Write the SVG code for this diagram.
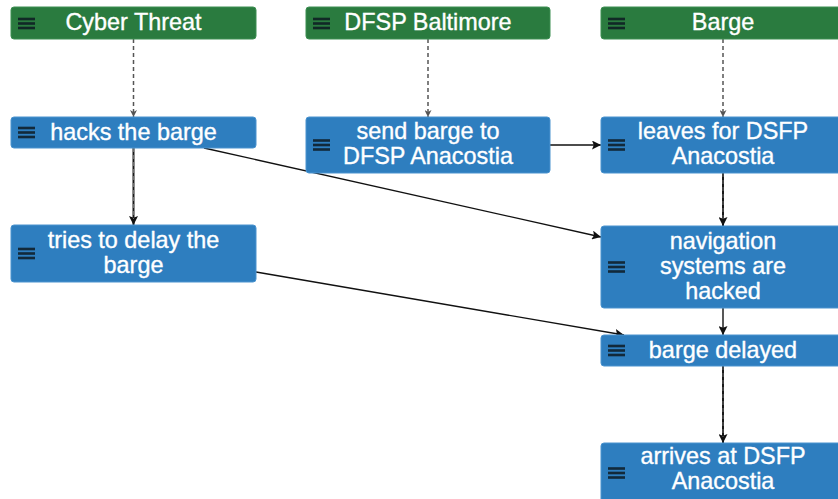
<svg xmlns="http://www.w3.org/2000/svg" width="838" height="499" viewBox="0 0 838 499">
  <style>
    .lane { fill: #2a7b3f; stroke: #3d8f52; stroke-width: 1; }
    .step { fill: #2e7ebf; stroke: #4a93cf; stroke-width: 1; }
    .label { font-family: "Liberation Sans", Arial, sans-serif; font-size: 23.4px; fill: #ffffff; stroke: #ffffff; stroke-width: 0.35; text-anchor: middle; }
    .menu rect { fill: #0d1a22; opacity: 0.85; }
    .dash { stroke: #555555; stroke-width: 1.5; stroke-dasharray: 4 3; fill: none; }
    .flow { stroke: #111111; stroke-width: 1.4; fill: none; }
    .flow-v { stroke: #1a1a1a; stroke-width: 2; fill: none; }
    .flow-over { stroke: #808080; stroke-width: 0.8; stroke-dasharray: 4 3; fill: none; }
  </style>
  <defs>
    <marker id="arrow-grey" viewBox="0 0 10 10" refX="10" refY="5" markerWidth="7" markerHeight="7" markerUnits="userSpaceOnUse" orient="auto">
      <path d="M0,0 L10,5 L0,10 L3,5 Z" fill="#555555"/>
    </marker>
    <marker id="arrow-black" viewBox="0 0 10 10" refX="10" refY="5" markerWidth="9" markerHeight="9" markerUnits="userSpaceOnUse" orient="auto">
      <path d="M0,0 L10,5 L0,10 L2,5 Z" fill="#111111"/>
    </marker>
    <g id="menu-icon" class="menu">
      <rect x="0" y="-5.8" width="17" height="2.6"/>
      <rect x="0" y="-1.3" width="17" height="2.6"/>
      <rect x="0" y="3.2" width="17" height="2.6"/>
    </g>
  </defs>

  <!-- connectors -->
  <g id="connectors">
    <line class="dash" x1="133.5" y1="39" x2="133.5" y2="117" marker-end="url(#arrow-grey)"/>
    <line class="dash" x1="428" y1="39" x2="428" y2="117" marker-end="url(#arrow-grey)"/>
    <line class="dash" x1="723" y1="39" x2="723" y2="117" marker-end="url(#arrow-grey)"/>

    <line class="flow-v" x1="133.5" y1="148" x2="133.5" y2="225" marker-end="url(#arrow-black)"/>
    <line class="flow-over" x1="133.5" y1="148" x2="133.5" y2="219"/>
    <line class="flow-v" x1="723" y1="173" x2="723" y2="226" marker-end="url(#arrow-black)"/>
    <line class="flow-over" x1="723" y1="173" x2="723" y2="220"/>
    <line class="flow" x1="723" y1="308" x2="723" y2="335" marker-end="url(#arrow-black)"/>
    <line class="flow-v" x1="723" y1="366" x2="723" y2="443" marker-end="url(#arrow-black)"/>
    <line class="flow-over" x1="723" y1="366" x2="723" y2="437"/>

    <line class="flow" x1="550" y1="145" x2="601" y2="145" marker-end="url(#arrow-black)"/>
    <line class="flow" x1="204" y1="148" x2="601" y2="237" marker-end="url(#arrow-black)"/>
    <line class="flow" x1="256" y1="272" x2="624" y2="335" marker-end="url(#arrow-black)"/>
  </g>

  <!-- lane headers -->
  <g id="cyber-threat">
    <rect class="lane" x="11" y="7" width="245" height="32" rx="3"/>
    <use href="#menu-icon" x="18" y="23.5"/>
    <text class="label" x="133.5" y="30">Cyber Threat</text>
  </g>
  <g id="dfsp-baltimore">
    <rect class="lane" x="306" y="7" width="244" height="32" rx="3"/>
    <use href="#menu-icon" x="313" y="23.5"/>
    <text class="label" x="428" y="30">DFSP Baltimore</text>
  </g>
  <g id="barge">
    <rect class="lane" x="601" y="7" width="245" height="32" rx="3"/>
    <use href="#menu-icon" x="608" y="23.5"/>
    <text class="label" x="723" y="30">Barge</text>
  </g>

  <!-- steps -->
  <g id="hacks-the-barge">
    <rect class="step" x="11" y="117" width="245" height="31" rx="3"/>
    <use href="#menu-icon" x="18" y="132.5"/>
    <text class="label" x="133.5" y="139.5">hacks the barge</text>
  </g>
  <g id="send-barge">
    <rect class="step" x="306" y="117" width="244" height="56" rx="3"/>
    <use href="#menu-icon" x="313" y="145"/>
    <text class="label" x="428" y="138.5">send barge to</text>
    <text class="label" x="428" y="163.5">DFSP Anacostia</text>
  </g>
  <g id="leaves-for-dsfp">
    <rect class="step" x="601" y="117" width="245" height="56" rx="3"/>
    <use href="#menu-icon" x="608" y="145"/>
    <text class="label" x="723" y="138.5">leaves for DSFP</text>
    <text class="label" x="723" y="163.5">Anacostia</text>
  </g>
  <g id="tries-to-delay">
    <rect class="step" x="11" y="225" width="245" height="57" rx="3"/>
    <use href="#menu-icon" x="18" y="253.5"/>
    <text class="label" x="133.5" y="247.5">tries to delay the</text>
    <text class="label" x="133.5" y="272.5">barge</text>
  </g>
  <g id="navigation-hacked">
    <rect class="step" x="601" y="226" width="245" height="82" rx="3"/>
    <use href="#menu-icon" x="608" y="267"/>
    <text class="label" x="723" y="248.5">navigation</text>
    <text class="label" x="723" y="273.5">systems are</text>
    <text class="label" x="723" y="298.5">hacked</text>
  </g>
  <g id="barge-delayed">
    <rect class="step" x="601" y="335" width="245" height="31" rx="3"/>
    <use href="#menu-icon" x="608" y="350.5"/>
    <text class="label" x="723" y="357.5">barge delayed</text>
  </g>
  <g id="arrives-at-dsfp">
    <rect class="step" x="601" y="443" width="245" height="62" rx="3"/>
    <use href="#menu-icon" x="608" y="473"/>
    <text class="label" x="723" y="463.5">arrives at DSFP</text>
    <text class="label" x="723" y="488.5">Anacostia</text>
  </g>
</svg>
